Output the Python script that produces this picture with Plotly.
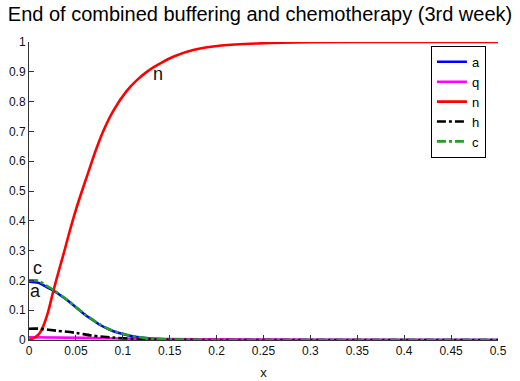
import plotly.graph_objects as go

x_n = [0, 0.005, 0.01, 0.0135, 0.02, 0.026, 0.032, 0.038, 0.0437, 0.05, 0.057, 0.064, 0.071,
       0.079, 0.09, 0.104, 0.115, 0.127, 0.14, 0.155, 0.175, 0.205, 0.25, 0.3, 0.4, 0.5]
n_vals = [0, 0.006, 0.018, 0.034, 0.09, 0.165, 0.235, 0.302, 0.369, 0.437, 0.505, 0.57, 0.635,
          0.7, 0.77, 0.835, 0.872, 0.903, 0.928, 0.952, 0.973, 0.988, 0.996, 0.999, 1.0, 1.0]

x_a = [0, 0.01, 0.018, 0.026, 0.038, 0.05, 0.06, 0.067, 0.075, 0.085, 0.095, 0.105, 0.115,
       0.13, 0.15, 0.2, 0.3, 0.5]
a_vals = [0.196, 0.192, 0.179, 0.166, 0.14, 0.11, 0.084, 0.069, 0.052, 0.036, 0.024, 0.016,
          0.01, 0.005, 0.002, 0.0, 0.0, 0.0]
c_vals = [0.2, 0.199, 0.183, 0.168, 0.141, 0.111, 0.085, 0.07, 0.053, 0.037, 0.025, 0.017,
          0.011, 0.005, 0.002, 0.0, 0.0, 0.0]

x_h = [0, 0.01, 0.03, 0.05, 0.067, 0.09, 0.12, 0.15, 0.2, 0.5]
h_vals = [0.038, 0.038, 0.031, 0.024, 0.015, 0.008, 0.003, 0.001, 0.0, 0.0]

x_q = [0, 0.06, 0.1, 0.15, 0.2, 0.3, 0.5]
q_vals = [0.009, 0.007, 0.005, 0.003, 0.002, 0.001, 0.0]

x_ticks = [0, 0.05, 0.1, 0.15, 0.2, 0.25, 0.3, 0.35, 0.4, 0.45, 0.5]
x_tick_labels = ["0", "0.05", "0.1", "0.15", "0.2", "0.25", "0.3", "0.35", "0.4", "0.45", "0.5"]
y_ticks = [0, 0.1, 0.2, 0.3, 0.4, 0.5, 0.6, 0.7, 0.8, 0.9, 1]
y_tick_labels = ["0", "0.1", "0.2", "0.3", "0.4", "0.5", "0.6", "0.7", "0.8", "0.9", "1"]

FONT = "Liberation Sans, Arial, sans-serif"

fig = go.Figure()
fig.add_trace(go.Scatter(x=x_a, y=a_vals, name="a", mode="lines",
                         line=dict(color="#0000FF", width=2.6, shape="spline", smoothing=0.8)))
fig.add_trace(go.Scatter(x=x_q, y=q_vals, name="q", mode="lines",
                         line=dict(color="#FF00FF", width=2.6, shape="spline", smoothing=0.8)))
fig.add_trace(go.Scatter(x=x_n, y=n_vals, name="n", mode="lines",
                         line=dict(color="#FF0000", width=2.6, shape="spline", smoothing=0.8)))
fig.add_trace(go.Scatter(x=x_h, y=h_vals, name="h", mode="lines",
                         line=dict(color="#000000", width=2.6, dash="dashdot", shape="spline", smoothing=0.8)))
fig.add_trace(go.Scatter(x=x_a, y=c_vals, name="c", mode="lines",
                         line=dict(color="#22A022", width=2.6, dash="dashdot", shape="spline", smoothing=0.8)))

fig.add_annotation(x=0.009, y=0.24, text="c", showarrow=False, font=dict(size=18, color="#111", family=FONT))
fig.add_annotation(x=0.007, y=0.163, text="a", showarrow=False, font=dict(size=18, color="#111", family=FONT))
fig.add_annotation(x=0.137, y=0.893, text="n", showarrow=False, font=dict(size=18, color="#111", family=FONT))

fig.update_layout(
    width=520, height=381,
    margin=dict(l=29, r=22, t=42, b=41),
    paper_bgcolor="white", plot_bgcolor="white",
    font=dict(family=FONT, size=12, color="#111"),
    title=dict(text="End of combined buffering and chemotherapy (3rd week)",
               x=0.5, xanchor="center", y=0.962, yanchor="middle",
               font=dict(size=20, family=FONT, color="#000")),
    showlegend=True,
    legend=dict(x=0.857, y=0.987, xanchor="left", yanchor="top",
                bgcolor="white", bordercolor="#000", borderwidth=1,
                font=dict(size=13, family=FONT, color="#000"),
                tracegroupgap=0, itemwidth=30),
)
fig.update_xaxes(range=[0, 0.5], tickmode="array", tickvals=x_ticks, ticktext=x_tick_labels,
                 ticks="inside", ticklen=5, tickcolor="#333", showline=True, linecolor="#333",
                 linewidth=1, showgrid=False, zeroline=False, automargin=False,
                 title=dict(text="x", font=dict(size=13, family=FONT), standoff=10))
fig.update_yaxes(range=[0, 1], tickmode="array", tickvals=y_ticks, ticktext=y_tick_labels,
                 ticks="inside", ticklen=5, tickcolor="#333", showline=True, linecolor="#333",
                 linewidth=1, showgrid=False, zeroline=False, automargin=False)

fig.write_html("out.html")
